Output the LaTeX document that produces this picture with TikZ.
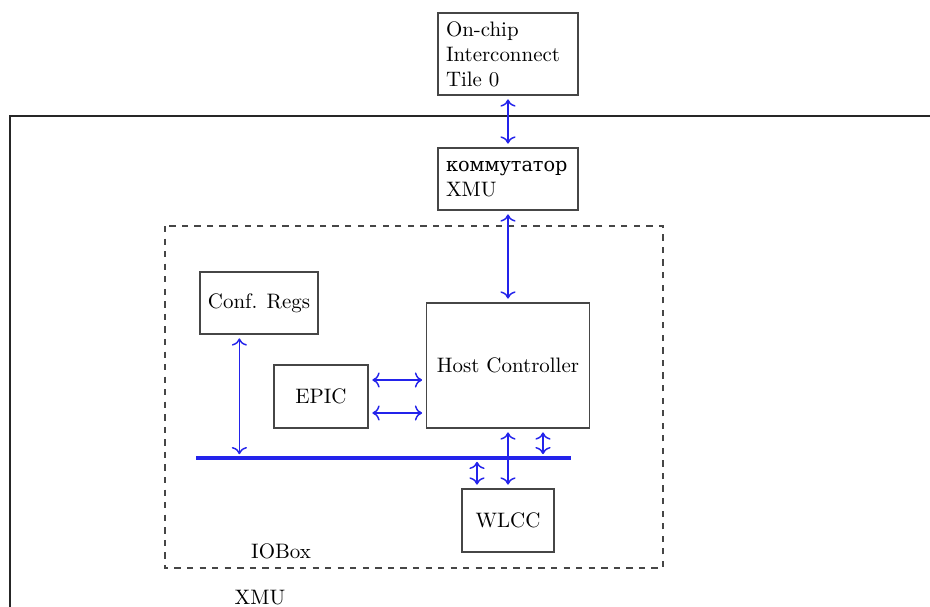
\documentclass[tikz,border=0pt]{standalone}
\usepackage{fontspec}
\newfontfamily\cyrfont[Scale=0.92]{DejaVu Serif}
\usetikzlibrary{calc,arrows.meta}
\definecolor{boxgray}{RGB}{70,70,70}
\definecolor{linkblue}{RGB}{35,35,235}

\begin{document}
\begin{tikzpicture}[x=0.0168cm,y=-0.0168cm,>={To[scale=1.1]},
  blk/.style={draw=boxgray,line width=0.6pt,rectangle,inner sep=0pt},
  link/.style={<->,linkblue,line width=0.7pt,shorten <=1.8pt,shorten >=1.8pt}]
  \useasboundingbox (0,0) rectangle (930,607);
  % outer XMU frame, clipped by the page
  \draw[line width=1.2pt,black!85] (930,116) -- (10,116) -- (10,607);
  \draw[boxgray,dashed,line width=0.5pt] (165,226) rectangle (663,568);
  \node[blk,minimum width=140*0.0168cm,minimum height=82*0.0168cm,text width=124*0.0168cm,align=left] (tile) at (508,54) {On-chip\\Interconnect\\Tile 0};
  \node[blk,minimum width=140*0.0168cm,minimum height=62*0.0168cm,text width=124*0.0168cm,align=left] (komm) at (508,179) {{\cyrfont коммутатор}\\XMU};
  \node[blk,minimum width=118*0.0168cm,minimum height=62*0.0168cm] (conf) at (259,303) {Conf. Regs};
  \node[blk,minimum width=163*0.0168cm,minimum height=125*0.0168cm] (hc) at (508,365.5) {Host Controller};
  \node[blk,minimum width=94*0.0168cm,minimum height=63*0.0168cm] (epic) at (321,396.5) {EPIC};
  \node[blk,minimum width=92*0.0168cm,minimum height=63*0.0168cm] (wlcc) at (508,520.5) {WLCC};
  \node (iolbl) at (281,551) {IOBox};
  \node (xmulbl) at (260,598) {XMU};
  % bus
  \coordinate (busW) at (196,458);
  \coordinate (busE) at (571,458);
  \draw[linkblue,line width=2pt] (busW) -- (busE);
  \draw[link] (tile.south) -- (komm.north);
  \draw[link] (komm.south) -- (hc.north);
  \coordinate (c1) at ($(conf.south west)+(40,0)$);
  \draw[link] (c1) -- (c1 |- busW);
  \coordinate (e1) at ($(epic.east)+(0,-16.5)$);
  \coordinate (e2) at ($(epic.east)+(0,16.5)$);
  \draw[link] (e1) -- (e1 -| hc.west);
  \draw[link] (e2) -- (e2 -| hc.west);
  \draw[link] (hc.south) -- (wlcc.north);
  \coordinate (h2) at ($(hc.south)+(35,0)$);
  \draw[link] (h2) -- (h2 |- busW);
  \coordinate (w2) at ($(wlcc.north)+(-31,0)$);
  \draw[link] (w2 |- busW) -- (w2);
\end{tikzpicture}
\end{document}
